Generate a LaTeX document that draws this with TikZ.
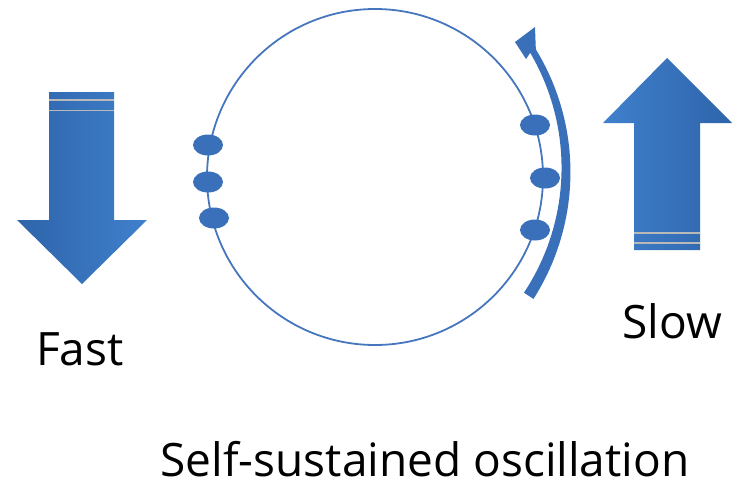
\documentclass[tikz,border=0pt]{standalone}
\usepackage{fontspec}
\setmainfont{Open Sans}
\usetikzlibrary{shapes.geometric}
\begin{document}
\begin{tikzpicture}[x=1pt,y=-1pt,
  ring/.style={draw=ringblue,line width=1.8pt},
  dot/.style={ellipse,fill=dotblue,minimum width=30pt,minimum height=21pt,inner sep=0pt},
  stripe/.style={draw=gray!55,line width=1.8pt},
  lbl/.style={font=\fontsize{46}{50}\selectfont,anchor=base,inner sep=0pt}]
\definecolor{ringblue}{RGB}{70,118,190}
\definecolor{dotblue}{RGB}{58,112,186}
\definecolor{darkb}{RGB}{46,100,170}
\definecolor{lightb}{RGB}{64,128,204}
\useasboundingbox (0,0) rectangle (736,485);
% circle
\node[circle,ring,minimum size=336pt,inner sep=0pt] (C) at (375,177) {};
% dots on circle
\node[dot] (l1) at (208,145) {};
\node[dot] (l2) at (208,182) {};
\node[dot] (l3) at (214,218) {};
\node[dot] (r1) at (535,125) {};
\node[dot] (r2) at (545,178) {};
\node[dot] (r3) at (535,230) {};
% down arrow (Fast)
\shade[left color=darkb,right color=lightb]
  (49,92) -- (114,92) -- (114,220) -- (147,220) -- (82,284) -- (17,220) -- (49,220) -- cycle;
\draw[stripe] (49,100) -- (114,100);
\draw[stripe] (49,110.5) -- (114,110.5);
% up arrow (Slow)
\shade[left color=lightb,right color=darkb]
  (667,58) -- (732,123) -- (700,123) -- (700,250) -- (634,250) -- (634,123) -- (603,123) -- cycle;
\draw[stripe] (634,233) -- (700,233);
\draw[stripe] (634,243) -- (700,243);
% curved arrow
\fill[dotblue]
  plot[domain=33:-31,samples=40] ({335+(231+3.3+2.4*(\x+31)/64)*cos(\x)},{170+(231+3.3+2.4*(\x+31)/64)*sin(\x)})
  -- (535,27) -- (515,42) -- (526,59)
  -- plot[domain=-31:33,samples=40] ({335+(231-3.3-2.4*(\x+31)/64)*cos(\x)},{170+(231-3.3-2.4*(\x+31)/64)*sin(\x)})
  -- cycle;
% labels
\node[lbl] (fast) at (80,365) {Fast};
\node[lbl] (slow) at (672,338) {Slow};
\node[lbl] (title) at (425,476) {Self-sustained oscillation};
\end{tikzpicture}
\end{document}
